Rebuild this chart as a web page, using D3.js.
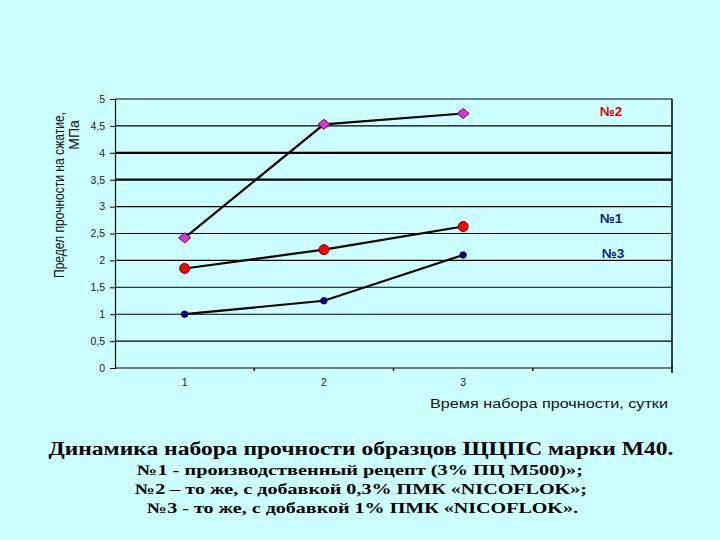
<!DOCTYPE html>
<html><head><meta charset="utf-8">
<script src="https://cdn.jsdelivr.net/npm/d3@7"></script>
<style>html,body{margin:0;padding:0;background:#ccffff;}</style>
</head><body>
<svg id="c" width="720" height="540"></svg>
<script>
const categories = ["1", "2", "3", ""];
const yTicks = [0, 0.5, 1, 1.5, 2, 2.5, 3, 3.5, 4, 4.5, 5];
const series1 = [1.85, 2.2, 2.63];
const series2 = [2.42, 4.53, 4.73];
const series3 = [1.0, 1.25, 2.1];
const seriesNames = ["№1", "№2", "№3"];
const yTitle = ["Предел прочности на сжатие,", "МПа"];
const xTitle = "Время набора прочности, сутки";
const title = "Динамика набора прочности образцов ЩЦПС марки М40.";
const notes = [
  "№1 - производственный рецепт (3% ПЦ М500)»;",
  "№2 – то же, с добавкой 0,3% ПМК «NICOFLOK»;",
  "№3 - то же, с добавкой 1% ПМК «NICOFLOK»."
];

const svg = d3.select("#c");
svg.append("rect").attr("width",720).attr("height",540).attr("fill","#ccffff");
const L=115, R=672, T=99, B=368;
const x = d3.scaleBand().domain(categories.map((d,i)=>i)).range([L,R]);
const y = d3.scaleLinear().domain([0,5]).range([B,T]);
const cx = i => x(i) + x.bandwidth()/2;

// gridlines
svg.append("g").selectAll("line").data(yTicks.filter(v=>v>0)).join("line")
  .attr("x1",L).attr("x2",R).attr("y1",d=>y(d)).attr("y2",d=>y(d))
  .attr("stroke","#000").attr("stroke-width",d=>(d===4||d===3.5)?2.2:1.1);
// right border
svg.append("line").attr("x1",R).attr("x2",R).attr("y1",T).attr("y2",B).attr("stroke","#000").attr("stroke-width",1.5);
// y axis
const ya = svg.append("g").attr("transform",`translate(${L},0)`)
  .call(d3.axisLeft(y).tickValues(yTicks).tickSize(5).tickPadding(5)
    .tickFormat(d=>String(d).replace(".",",")));
ya.select(".domain").attr("stroke","#000").attr("stroke-width",1.2);
ya.selectAll("text").attr("font-family","Liberation Sans, Arial, sans-serif").attr("font-size",10.5).attr("fill","#222");
// x axis
svg.append("line").attr("x1",L).attr("x2",R).attr("y1",B).attr("y2",B).attr("stroke","#000").attr("stroke-width",1.2);
svg.append("g").selectAll("line").data(categories.map((d,i)=>i).slice(1)).join("line")
  .attr("x1",d=>x(d)).attr("x2",d=>x(d)).attr("y1",B).attr("y2",B+3).attr("stroke","#000").attr("stroke-width",1.5);
svg.append("line").attr("x1",R).attr("x2",R).attr("y1",B-2).attr("y2",B+5).attr("stroke","#000").attr("stroke-width",1.5);
svg.append("g").selectAll("text").data(categories).join("text")
  .attr("x",(d,i)=>cx(i)).attr("y",386).attr("text-anchor","middle")
  .attr("font-family","Liberation Sans, Arial, sans-serif").attr("font-size",10.5).attr("fill","#222").text(d=>d);

// lines
const line = d3.line().x((d,i)=>cx(i)).y(d=>y(d));
[series2, series1, series3].forEach(s=>{
  svg.append("path").attr("d",line(s)).attr("fill","none").attr("stroke","#000").attr("stroke-width",2.2);
});
// markers
svg.append("g").selectAll("path").data(series2).join("path")
  .attr("transform",(d,i)=>`translate(${cx(i)},${y(d)})`)
  .attr("d","M-6,0L0,-5L6,0L0,5Z").attr("fill","#dd33dd").attr("stroke","#660066").attr("stroke-width",1);
svg.append("g").selectAll("circle").data(series1).join("circle")
  .attr("cx",(d,i)=>cx(i)).attr("cy",d=>y(d)).attr("r",5)
  .attr("fill","#ff0000").attr("stroke","#880000").attr("stroke-width",1);
svg.append("g").selectAll("circle").data(series3).join("circle")
  .attr("cx",(d,i)=>cx(i)).attr("cy",d=>y(d)).attr("r",3.3)
  .attr("fill","#000080").attr("stroke","#000040").attr("stroke-width",0.8);

// series labels
const lab = [{t:seriesNames[1],x:611,y:116,c:"#e00000"},{t:seriesNames[0],x:611,y:223,c:"#002080"},{t:seriesNames[2],x:613,y:258,c:"#002080"}];
svg.append("g").selectAll("text").data(lab).join("text")
  .attr("x",d=>d.x).attr("y",d=>d.y).attr("text-anchor","middle")
  .attr("font-family","Liberation Sans, Arial, sans-serif").attr("font-weight","bold").attr("font-size",13.5)
  .attr("fill",d=>d.c).text(d=>d.t);

// y title
svg.append("text").attr("transform","translate(64,195) rotate(-90)")
  .attr("x",-83).attr("y",0).attr("textLength",166).attr("lengthAdjust","spacingAndGlyphs")
  .attr("font-family","Liberation Sans, Arial, sans-serif")
  .attr("font-size",15).attr("fill","#111").text(yTitle[0]);
svg.append("text").attr("transform","translate(79,135) rotate(-90)")
  .attr("text-anchor","middle").attr("font-family","Liberation Sans, Arial, sans-serif")
  .attr("font-size",14).attr("fill","#111").text(yTitle[1]);

// x title
svg.append("text").attr("x",430).attr("y",408).attr("textLength",238).attr("lengthAdjust","spacingAndGlyphs")
  .attr("font-family","Liberation Sans, Arial, sans-serif").attr("font-size",13.5).attr("fill","#111").text(xTitle);

// title
svg.append("text").attr("x",361).attr("y",455).attr("text-anchor","middle").attr("textLength",625).attr("lengthAdjust","spacingAndGlyphs")
  .attr("font-family","Liberation Serif, Times New Roman, serif").attr("font-weight","bold").attr("font-size",18).attr("fill","#000").text(title);
const nl = [[137,583,475],[135,587,494],[147,578,513]];
svg.append("g").selectAll("text").data(notes).join("text")
  .attr("x",(d,i)=>nl[i][0]).attr("y",(d,i)=>nl[i][2]).attr("textLength",(d,i)=>nl[i][1]-nl[i][0]).attr("lengthAdjust","spacingAndGlyphs")
  .attr("font-family","Liberation Serif, Times New Roman, serif").attr("font-weight","bold").attr("font-size",14.5).attr("fill","#000").text(d=>d);
</script>
</body></html>
